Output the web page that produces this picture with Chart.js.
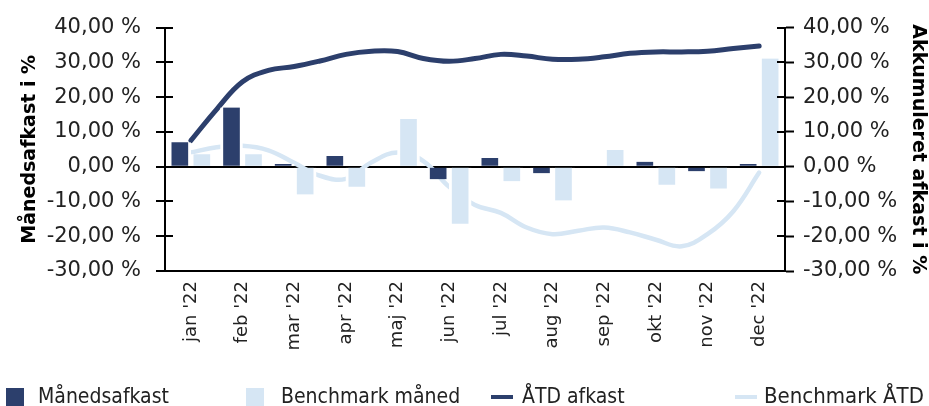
<!DOCTYPE html>
<html>
<head>
<meta charset="utf-8">
<script src="https://cdn.jsdelivr.net/npm/chart.js@4.4.1/dist/chart.umd.min.js"></script>
<style>
  html, body { margin: 0; padding: 0; background: #fff; }
  #wrap { position: relative; width: 929px; height: 406px; overflow: hidden; }
  #chart { position: absolute; left: 0; top: 0; }
  .lg { position: absolute; top: 383px; line-height: 26px; font-family: 'DejaVu Sans Condensed', 'DejaVu Sans', sans-serif; font-size: 21px; color: #222; white-space: nowrap; }
  .sw { position: absolute; }
</style>
</head>
<body>
<div id="wrap">
  <canvas id="chart" width="929" height="406"></canvas>
  <div class="sw" style="left:6px;top:388px;width:18px;height:18px;background:#2c3f6c"></div>
  <div class="lg" style="left:38px">Månedsafkast</div>
  <div class="sw" style="left:246px;top:388px;width:18px;height:18px;background:#d6e6f4"></div>
  <div class="lg" style="left:281px">Benchmark måned</div>
  <div class="sw" style="left:491px;top:395px;width:22px;height:4px;background:#2c3f6c"></div>
  <div class="lg" style="left:522px">ÅTD afkast</div>
  <div class="sw" style="left:735px;top:395px;width:22px;height:4px;background:#d6e6f4"></div>
  <div class="lg" style="left:764px;font-size:22px">Benchmark ÅTD</div>
</div>
<script>
// Månedlige værdier (søjler)
const labels = ["jan '22", "feb '22", "mar '22", "apr '22", "maj '22", "jun '22", "jul '22", "aug '22", "sep '22", "okt '22", "nov '22", "dec '22"];
const maanedsafkast = [7.0, 17.0, 0.8, 3.1, 0.0, -3.6, 2.5, -1.9, 0.0, 1.4, -1.3, 0.8];
const benchmarkMaaned = [3.6, 3.6, -8.0, -5.8, 13.7, -16.4, -4.2, -9.7, 4.8, -5.2, -6.3, 31.1];

// Akkumulerede kurver, aflæst hver halve måned (0 = jan, 11 = dec)
const atdPos = [0, 0.5, 1, 1.5, 2, 2.5, 3, 3.5, 4, 4.5, 5, 5.5, 6, 6.5, 7, 7.5, 8, 8.5, 9, 9.5, 10, 10.5, 11];
const atdAfkast = [7.5, 16.5, 24.4, 27.7, 28.8, 30.4, 32.3, 33.2, 33.1, 31.1, 30.3, 31.1, 32.3, 31.8, 30.9, 30.9, 31.6, 32.6, 33.0, 33.0, 33.2, 34.0, 34.7];
const benchmarkAtd = [4.1, 5.6, 6.0, 4.7, 1.1, -2.6, -3.5, 1.3, 4.1, 1.6, -5.8, -11.0, -13.3, -17.5, -19.4, -18.4, -17.5, -18.9, -21.0, -22.9, -19.4, -12.8, -1.7];

const yTicks = [-30, -20, -10, 0, 10, 20, 30, 40];

const darkBlue = '#2c3f6c';
const lightBlue = '#d6e6f4';

function pct(v) {
    return v.toFixed(2).replace('.', ',') + ' %';
}

function toPoints(xs, ys) {
    return xs.map((x, i) => ({ x: x, y: ys[i] }));
}

// små tick-streger der stikker ind i plotområdet
const innerTicks = {
    id: 'innerTicks',
    afterDraw(chart) {
        const c = chart.ctx;
        c.save();
        c.strokeStyle = '#000';
        c.lineWidth = 2;
        ['y', 'y2'].forEach(id => {
            const s = chart.scales[id];
            s.ticks.forEach((t, i) => {
                const py = Math.round(s.getPixelForTick(i));
                c.beginPath();
                if (id === 'y') { c.moveTo(s.right, py); c.lineTo(s.right + 8, py); }
                else { c.moveTo(s.left - 8, py); c.lineTo(s.left, py); }
                c.stroke();
            });
        });
        c.restore();
    }
};

const tickFont = { family: 'DejaVu Sans', size: 21 };
const titleFont = { family: 'DejaVu Sans', size: 19, weight: 'bold' };

// søjlerne: 22 px bred plads, hvid kant på siderne giver mellemrummet
const barStyle = {
    barThickness: 22,
    borderColor: '#fff',
    borderWidth: { left: 3, right: 3, top: 0, bottom: 0 },
    borderSkipped: false,
    order: 1
};

new Chart(document.getElementById('chart'), {
    data: {
        labels: labels,
        datasets: [
            {
                type: 'line', label: 'ÅTD afkast', data: toPoints(atdPos, atdAfkast),
                xAxisID: 'xl', yAxisID: 'y2', borderColor: darkBlue, borderWidth: 5,
                pointRadius: 0, tension: 0.4, order: 2, borderCapStyle: 'round'
            },
            {
                type: 'line', label: 'Benchmark ÅTD', data: toPoints(atdPos, benchmarkAtd),
                xAxisID: 'xl', yAxisID: 'y2', borderColor: lightBlue, borderWidth: 4.5,
                pointRadius: 0, tension: 0.4, order: 3, borderCapStyle: 'round'
            },
            Object.assign({
                type: 'bar', label: 'Månedsafkast', data: maanedsafkast,
                backgroundColor: darkBlue, xAxisID: 'x', yAxisID: 'y'
            }, barStyle),
            Object.assign({
                type: 'bar', label: 'Benchmark måned', data: benchmarkMaaned,
                backgroundColor: lightBlue, xAxisID: 'x', yAxisID: 'y'
            }, barStyle)
        ]
    },
    options: {
        responsive: false,
        animation: false,
        devicePixelRatio: 1,
        layout: { padding: { top: 22, left: 0, right: 0, bottom: 0 } },
        plugins: { legend: { display: false }, tooltip: { enabled: false } },
        scales: {
            x: {
                type: 'category', position: 'bottom',
                grid: { display: false, drawTicks: false },
                border: { display: true, color: '#000', width: 2 },
                ticks: { minRotation: 90, maxRotation: 90, padding: 10, color: '#222', font: { family: 'DejaVu Sans', size: 18 } },
                afterFit(s) { s.height = 406 - 271; }
            },
            xl: { type: 'linear', display: false, min: -0.5, max: 11.5 },
            y: {
                position: 'left', min: -30, max: 40,
                afterBuildTicks(s) { s.ticks = yTicks.map(v => ({ value: v })); },
                ticks: { padding: 15, color: '#222', font: tickFont, callback: v => pct(v) },
                grid: {
                    color: c => (c.tick && c.tick.value === 0) ? '#000' : 'rgba(0,0,0,0)',
                    lineWidth: 2, tickColor: '#000', tickLength: 9, tickWidth: 2
                },
                border: { color: '#000', width: 2 },
                title: { display: true, text: 'Månedsafkast i %', color: '#000', font: titleFont, padding: { top: 19, bottom: 0 } },
                afterFit(s) { s.width = 165; }
            },
            y2: {
                position: 'right', min: -30, max: 40,
                afterBuildTicks(s) { s.ticks = yTicks.map(v => ({ value: v })); },
                ticks: { padding: 9, color: '#222', font: tickFont, callback: v => pct(v) },
                grid: { drawOnChartArea: false, tickColor: '#000', tickLength: 9, tickWidth: 2 },
                border: { color: '#000', width: 2 },
                title: { display: true, text: 'Akkumuleret afkast i %', color: '#000', font: titleFont, padding: { top: 0, bottom: 0 } },
                afterFit(s) { s.width = 929 - 785; }
            }
        }
    },
    plugins: [innerTicks]
});
</script>
</body>
</html>
